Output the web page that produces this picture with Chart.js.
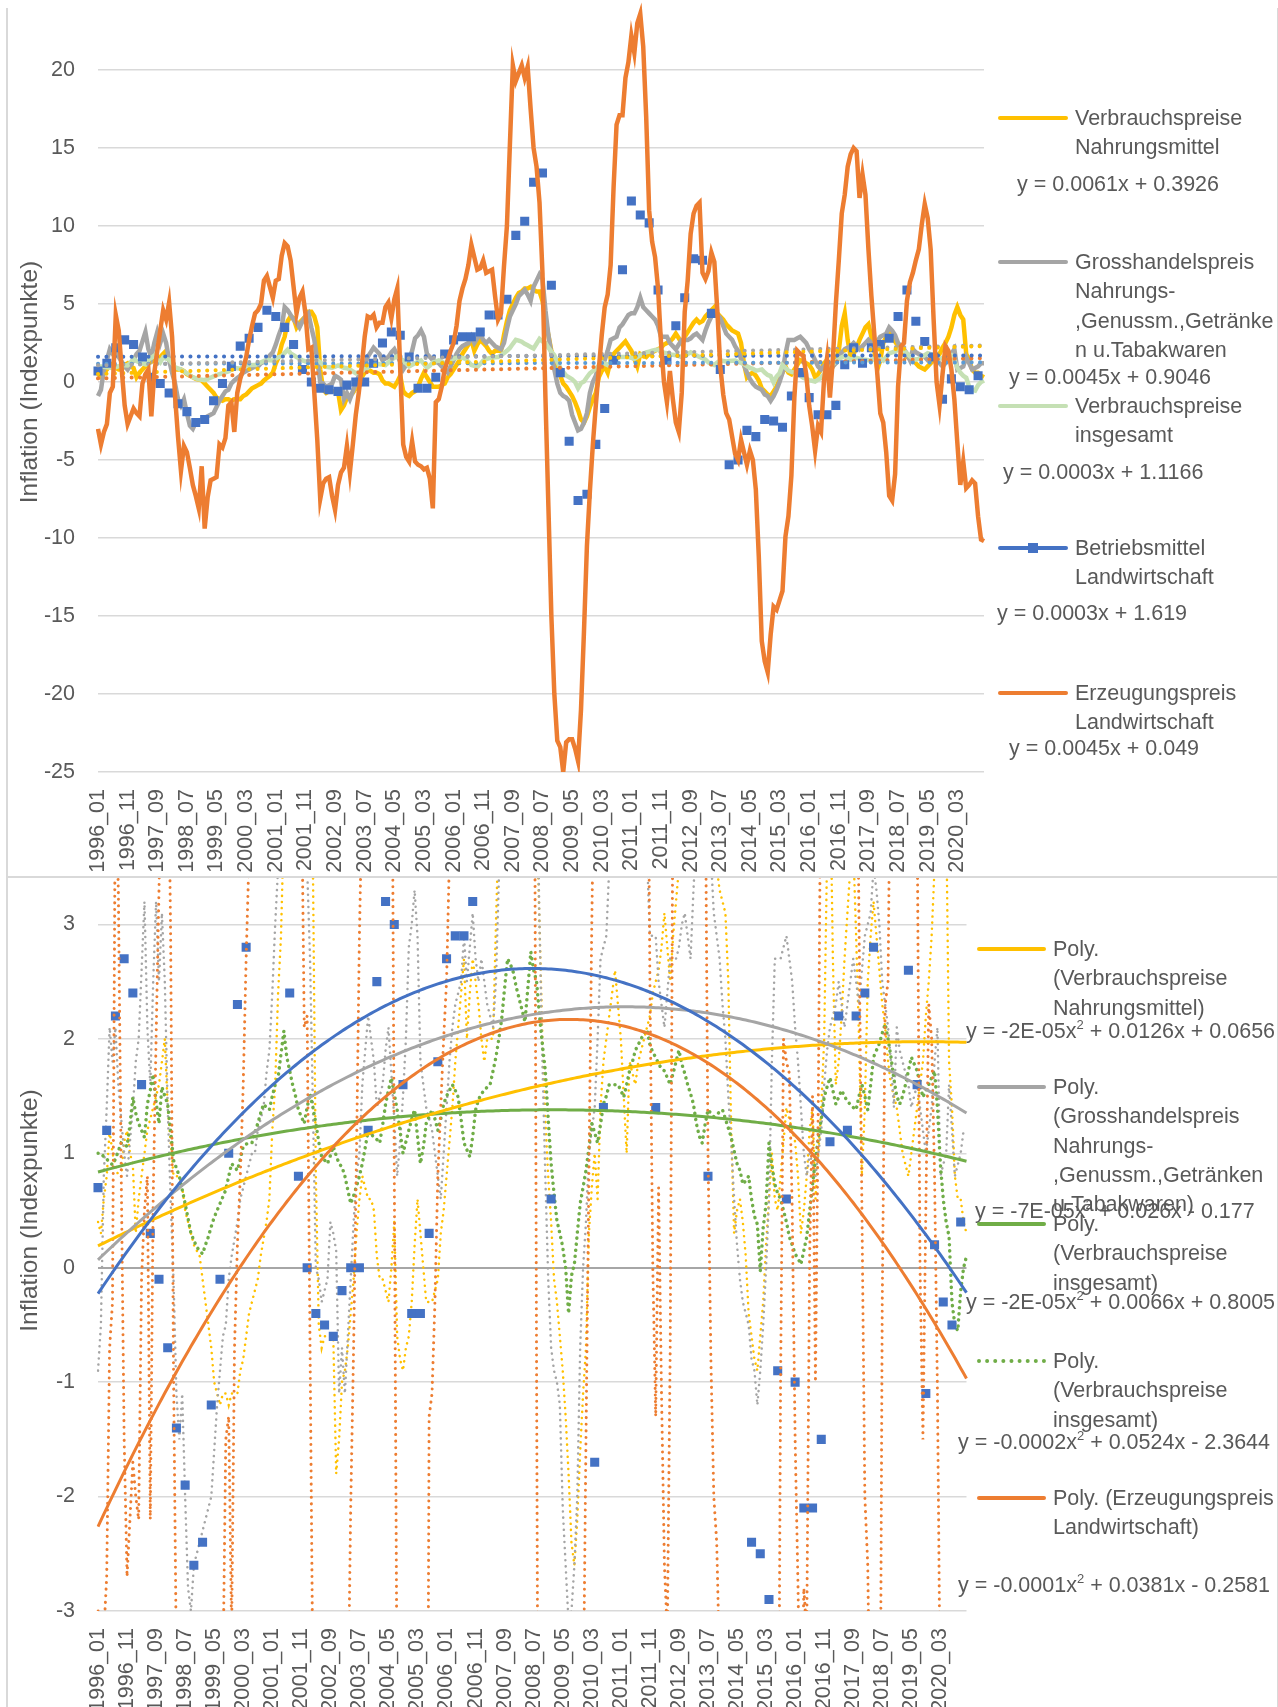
<!DOCTYPE html>
<html lang="de">
<head>
<meta charset="utf-8">
<title>Inflation (Indexpunkte)</title>
<script src="https://cdn.jsdelivr.net/npm/chart.js@4.4.0/dist/chart.umd.min.js"></script>
<style>
  html, body { margin: 0; padding: 0; background: #fff; }
  body { position: relative; width: 1278px; height: 1707px; overflow: hidden;
         font-family: "Liberation Sans", Arial, sans-serif; color: #595959; }
  .chartbox { position: absolute; left: 0; width: 1278px; }
  #bottomBox { top: 770px; height: 956px; z-index: 1; }
  #topBox { top: -48px; height: 924px; z-index: 2; background: #fff; }
  .rule { position: absolute; background: #d9d9d9; z-index: 5; }
  .lg { position: absolute; z-index: 6; font-size: 21.5px; line-height: 26px; white-space: nowrap; color: #595959; }
  .sw { position: absolute; z-index: 6; height: 4.5px; border-radius: 2.5px; }
  .swdot { position: absolute; z-index: 6; height: 0; border-top: 4px dotted #70ad47; }
  .mk { position: absolute; z-index: 7; width: 10px; height: 10px; background: #4472c4; }
  sup { font-size: 13px; line-height: 0; vertical-align: 9px; }
</style>
</head>
<body>
<div class="chartbox" id="topBox"><canvas id="topChart"></canvas></div>
<div class="chartbox" id="bottomBox"><canvas id="bottomChart"></canvas></div>
<div class="rule" style="left:6px;top:8px;width:1.5px;height:1699px"></div>
<div class="rule" style="left:1276.5px;top:8px;width:1.5px;height:1699px"></div>
<div class="rule" style="left:6px;top:876px;width:1272px;height:1.5px"></div>
<div id="legends"></div>
<script>
/* Monthly inflation series 1996_01 .. 2020_12, Betriebsmittel quarterly */
const FIRST_YEAR = 1996, LAST_YEAR = 2020;
const LABELS = [];
for (let y = FIRST_YEAR; y <= LAST_YEAR; y++) {
  for (let m = 1; m <= 12; m++) LABELS.push(y + '_' + String(m).padStart(2, '0'));
}

const NAMES = [
  'Verbrauchspreise Nahrungsmittel',
  'Grosshandelspreis Nahrungs-,Genussm.,Getränken u.Tabakwaren',
  'Verbrauchspreise insgesamt',
  'Betriebsmittel Landwirtschaft',
  'Erzeugungspreis Landwirtschaft',
];

const NAHRUNG = [
  0.4,0.3,0.6,0.8,1.2,1.0,0.9,0.8,0.8,1.1,1.2,1.0,
  0.9,0.3,0.6,0.8,1.0,1.2,1.3,1.4,1.5,1.6,1.8,2.0,
  1.4,1.1,0.8,0.8,0.8,0.7,0.5,0.4,0.3,0.2,0.15,0.1,
  -0.1,-0.3,-0.5,-0.7,-1.0,-1.1,-1.2,-1.1,-1.1,-1.2,-1.1,-1.1,
  -1.1,-0.9,-0.8,-0.6,-0.4,-0.3,-0.2,-0.1,0.1,0.25,0.4,0.6,
  1.2,1.6,2.4,2.9,3.9,4.2,4.1,3.5,3.8,4.0,4.2,4.5,
  4.5,4.2,3.5,0.8,-0.5,-0.7,-0.6,-0.6,-0.6,-0.6,-1.8,-1.5,
  -1.0,-0.9,-0.7,-0.4,-0.1,0.3,0.6,0.8,0.7,0.6,0.6,0.5,
  0.1,-0.1,-0.1,-0.2,-0.3,0.0,0.4,-0.6,-0.8,-0.9,-0.7,-0.6,
  -0.3,0.2,0.6,0.3,0.0,-0.3,-0.3,-0.3,-0.2,-0.1,0.3,0.5,
  0.8,1.1,1.4,1.8,2.1,2.4,2.7,2.0,2.4,2.7,2.5,2.3,
  2.0,1.8,2.0,2.0,2.0,3.0,3.9,4.6,5.0,5.4,5.7,5.8,
  6.0,6.0,6.1,5.9,5.8,5.8,5.2,4.0,3.0,2.0,1.3,0.8,
  0.4,-0.1,-0.3,-0.6,-0.9,-1.3,-1.8,-2.4,-2.6,-2.2,-1.6,-1.1,
  -0.7,0.3,0.7,1.0,0.6,1.4,1.8,2.0,2.2,2.4,2.6,2.3,
  2.0,1.5,1.0,1.8,1.7,1.6,1.8,1.9,2.0,2.1,2.2,2.4,
  2.5,2.6,2.8,3.1,2.8,2.5,2.9,3.2,3.5,3.8,4.0,3.8,
  3.9,4.2,4.4,4.6,4.8,4.4,4.2,4.0,3.7,3.5,3.3,3.2,
  3.1,2.5,1.2,0.3,0.5,0.6,0.4,0.1,-0.4,-0.6,-0.8,-0.9,
  -0.6,-0.3,0.2,0.6,1.0,0.6,0.5,0.8,1.1,1.4,1.3,1.2,
  1.1,0.8,0.3,0.5,0.8,1.2,1.4,0.6,1.0,1.4,2.0,3.6,
  4.4,2.7,1.6,1.8,2.2,2.7,3.1,3.5,3.7,2.9,2.0,0.8,
  1.4,2.5,2.9,3.2,2.9,2.6,2.3,2.1,1.8,1.6,1.5,1.4,
  1.2,1.0,0.9,0.8,1.0,1.2,1.4,1.6,1.8,2.2,2.5,2.9,
  3.5,4.3,4.8,4.3,4.0,1.8,1.4,0.8,0.6,0.6,0.4,0.3,
];

const GROSSHANDEL = [
  -0.9,-0.5,0.8,1.4,2.1,1.8,2.1,1.6,1.3,1.0,0.8,1.1,
  1.4,1.8,2.0,2.6,3.2,2.1,1.6,2.5,3.2,2.5,3.1,2.5,
  1.4,0.6,-0.1,-1.1,-1.5,-1.1,-2.0,-2.8,-3.0,-2.6,-2.5,-2.4,
  -2.3,-2.2,-2.1,-2.0,-1.6,-1.2,-0.9,-0.6,-0.5,-0.1,0.1,0.25,
  0.4,0.6,0.7,0.8,0.9,1.0,1.0,1.2,1.3,1.4,1.7,1.9,
  2.4,3.0,3.5,4.8,4.6,4.3,4.0,3.8,3.5,3.9,4.2,4.4,
  3.5,2.7,1.4,0.0,-0.1,-0.3,-0.2,-0.1,0.4,0.3,0.15,-1.1,
  -0.7,-1.1,-0.6,-0.1,0.4,0.8,1.0,1.6,1.9,2.2,2.0,1.8,
  1.4,1.5,1.6,1.9,2.1,1.7,1.3,0.8,1.1,1.5,2.0,2.8,
  3.0,3.3,2.9,1.8,1.6,1.4,1.3,1.2,1.0,0.8,0.6,1.0,
  1.4,1.8,2.1,2.3,2.4,2.5,2.9,2.5,2.8,3.1,2.7,2.5,
  2.7,2.5,2.3,2.2,2.1,2.5,3.4,4.2,4.6,5.0,5.5,5.7,
  5.9,5.6,5.2,6.1,6.5,6.9,6.6,4.6,3.0,1.8,0.8,-0.1,
  -0.7,-0.9,-1.0,-1.2,-2.1,-2.6,-3.1,-3.0,-2.6,-2.0,-0.7,0.0,
  0.4,1.0,1.2,1.4,2.0,2.7,2.8,2.9,3.5,3.7,4.0,4.3,
  4.4,4.4,4.8,5.4,4.8,4.6,4.4,4.2,4.0,3.6,2.9,2.9,
  2.9,2.5,2.3,2.1,2.4,2.7,2.7,2.7,2.8,3.0,3.1,2.9,
  2.7,3.3,3.8,4.2,4.4,4.3,4.1,3.6,3.1,2.9,2.7,2.3,
  2.0,1.5,1.1,0.6,0.2,-0.1,-0.3,-0.4,-0.5,-0.8,-0.9,-1.2,
  -0.9,-0.5,0.0,0.6,1.8,2.7,2.7,2.7,2.8,2.9,2.7,2.5,
  2.1,1.8,1.4,1.0,0.8,1.0,0.9,0.8,1.0,1.2,1.6,1.9,
  2.1,2.2,2.3,2.5,2.3,2.1,2.3,2.5,2.7,2.5,2.3,2.6,
  2.9,3.0,3.1,3.5,3.3,3.0,2.5,2.3,2.1,1.8,1.4,2.1,
  1.9,1.8,1.7,1.6,1.4,1.5,1.6,1.4,1.2,1.0,1.2,1.4,
  1.8,2.1,0.8,0.9,1.0,1.6,1.2,0.8,0.9,1.0,1.2,1.2,
];

const INSGESAMT = [
  1.0,1.0,0.97,0.95,0.92,0.9,0.95,1.02,1.09,1.08,1.06,1.25,
  1.49,1.35,1.26,1.2,1.14,1.43,1.55,1.69,1.45,1.26,1.58,1.5,
  1.43,1.2,0.94,0.87,0.8,0.68,0.56,0.43,0.3,0.24,0.18,0.15,
  0.12,0.2,0.27,0.36,0.44,0.5,0.56,0.62,0.68,0.8,0.91,0.88,
  0.85,0.95,1.06,1.08,1.09,1.09,1.18,1.26,1.35,1.43,1.4,1.38,
  1.5,1.6,1.66,1.87,2.07,1.84,1.72,1.6,1.5,1.38,1.32,1.26,
  1.4,1.52,1.4,1.26,1.1,0.97,0.94,0.91,0.98,1.06,0.98,0.91,
  0.88,0.8,0.68,0.56,0.63,0.71,0.8,0.91,1.05,1.2,1.17,1.14,
  1.12,1.09,1.25,1.43,1.55,1.66,1.52,1.38,1.2,1.0,1.1,1.2,
  1.3,1.38,1.15,0.91,1.05,1.26,1.32,1.38,1.3,1.2,1.3,1.43,
  1.5,1.55,1.6,1.55,1.49,1.3,1.09,1.03,0.97,1.15,1.38,1.47,
  1.52,1.55,1.58,1.6,1.72,1.84,2.0,2.18,2.45,2.7,2.65,2.58,
  2.45,2.35,2.25,2.15,2.45,2.76,2.6,2.5,2.2,1.95,1.72,1.3,
  0.91,0.65,0.41,0.3,0.18,0.0,-0.4,-0.07,0.03,0.3,0.56,0.7,
  0.85,1.05,1.26,1.18,1.09,1.25,1.43,1.5,1.6,1.6,1.6,1.6,
  1.55,1.49,1.6,1.72,1.8,1.9,1.95,2.0,2.05,2.08,1.95,1.88,
  1.84,1.78,1.74,1.72,1.66,1.6,1.7,1.8,1.9,1.78,1.7,1.6,
  1.52,1.43,1.26,1.15,1.09,1.25,1.38,1.35,1.32,1.34,1.36,1.38,
  1.3,1.22,1.14,1.02,0.91,0.85,0.73,0.76,0.8,0.6,0.45,0.38,
  -0.03,0.35,0.56,1.09,0.9,0.73,0.65,0.6,0.5,0.4,0.27,0.2,
  0.12,0.08,0.03,0.15,0.27,0.5,0.73,0.95,1.14,1.3,1.49,1.58,
  1.66,1.55,1.43,1.49,1.55,1.5,1.45,1.43,1.4,1.38,1.5,1.6,
  1.5,1.38,1.6,1.84,1.9,1.96,2.05,2.13,2.0,1.84,1.65,1.5,
  1.43,1.5,1.6,1.72,1.84,1.78,1.72,1.6,1.49,1.55,1.6,1.66,
  1.72,1.4,0.91,0.6,0.4,0.27,-0.3,-0.5,-0.55,-0.2,0.0,0.1,
];

// quarterly values: 1996_01, 1996_04, ... 2020_10
const BETRIEBSMITTEL_Q = [
  0.7,1.2,2.2,2.7,2.4,1.6,0.3,-0.1,-0.7,-1.4,
  -1.9,-2.6,-2.4,-1.2,-0.1,1.0,2.3,2.8,3.5,4.6,
  4.2,3.5,2.4,0.8,0.0,-0.4,-0.5,-0.6,-0.2,0.0,
  0.0,1.2,2.5,3.2,3.0,1.6,-0.4,-0.4,0.3,1.8,
  2.7,2.9,2.9,3.2,4.3,4.3,5.3,9.4,10.3,12.8,
  13.4,6.2,0.6,-3.8,-7.6,-7.2,-4.0,-1.7,1.4,7.2,
  11.6,10.7,10.2,5.9,1.4,3.6,5.4,7.9,7.8,4.4,
  0.8,-5.3,-5.0,-3.1,-3.5,-2.4,-2.5,-2.9,-0.9,0.6,
  -1.0,-2.1,-2.1,-1.5,1.1,2.2,1.2,2.2,2.4,2.8,
  4.2,5.9,3.9,2.6,1.6,-1.1,0.2,-0.3,-0.5,0.4,
];

const ERZEUGUNG = [
  -3.0,-4.0,-3.2,-2.7,-0.7,-0.3,4.3,3.3,0.8,-1.5,-2.7,-2.2,
  -1.7,-2.0,-2.2,-0.1,0.5,0.8,-2.2,0.6,2.0,3.3,4.6,4.0,
  5.1,2.9,-0.9,-3.5,-5.7,-4.1,-4.5,-5.5,-6.6,-7.3,-8.1,-5.4,
  -9.4,-7.4,-6.3,-6.2,-6.1,-4.0,-4.2,-3.6,-1.5,-1.3,-3.2,-0.7,
  0.2,0.8,1.6,2.7,3.6,4.4,4.6,5.0,6.5,6.8,6.1,5.4,
  6.5,6.6,8.1,8.9,8.7,7.8,6.1,4.4,5.4,5.8,4.4,2.1,
  2.2,-0.7,-3.7,-7.5,-6.5,-6.2,-6.1,-7.3,-8.2,-6.6,-5.8,-5.5,
  -4.1,-5.8,-4.0,-2.1,-0.7,1.0,2.9,4.2,4.1,4.3,3.5,3.8,
  3.8,4.8,5.1,4.1,5.3,6.0,0.8,-4.0,-4.8,-5.1,-3.8,-5.1,
  -5.3,-5.4,-5.6,-5.5,-6.2,-8.1,-1.3,-1.1,-0.3,0.8,1.4,2.0,
  2.5,3.6,5.2,6.0,6.6,7.5,8.8,8.0,7.2,7.3,7.8,7.0,
  7.1,7.2,5.5,4.0,4.4,7.4,10.0,15.2,20.3,19.3,19.8,20.3,
  19.5,20.2,17.5,15.0,13.8,11.5,7.0,-1.0,-8.0,-15.0,-20.0,-23.0,
  -23.4,-25.0,-23.1,-22.9,-22.9,-23.5,-24.3,-21.0,-16.0,-10.5,-7.0,-4.0,
  -1.5,0.8,3.0,4.8,5.6,7.5,12.5,16.5,17.1,17.1,19.5,20.5,
  22.2,21.1,23.0,23.6,21.5,17.0,11.0,9.0,8.0,6.0,2.5,0.0,
  -1.3,0.7,-1.1,-2.6,-3.2,-0.7,4.5,6.5,9.5,10.8,11.3,11.5,
  7.0,6.6,7.1,8.3,7.7,4.6,1.0,-0.8,-2.0,-2.4,-3.5,-4.6,
  -5.0,-3.7,-4.5,-5.3,-4.4,-5.0,-6.9,-11.2,-16.6,-17.9,-18.6,-16.2,
  -14.4,-14.6,-14.0,-13.4,-9.9,-8.6,-6.0,-1.0,2.0,1.8,1.7,0.5,
  -1.5,-2.8,-4.4,-2.8,-3.2,0.1,1.5,-1.0,1.5,5.0,7.8,10.8,
  12.0,13.8,14.6,15.0,14.8,11.8,13.3,12.0,8.5,5.5,3.0,0.5,
  -2.0,-2.6,-4.5,-7.3,-7.6,-5.9,-0.3,2.3,2.5,5.2,6.4,7.0,
  7.8,8.5,10.1,11.4,10.5,8.5,4.0,0.0,-1.5,0.5,2.3,2.0,
  0.8,-1.1,-3.9,-6.6,-5.1,-6.8,-6.6,-6.3,-6.5,-8.6,-10.1,-10.2,
];

const BETRIEBSMITTEL = LABELS.map((_, i) => (i % 3 === 0 ? BETRIEBSMITTEL_Q[i / 3] : null));

const LIN_EQ = ['y = 0.0061x + 0.3926', 'y = 0.0045x + 0.9046', 'y = 0.0003x + 1.1166', 'y = 0.0003x + 1.619', 'y = 0.0045x + 0.049'];
const POLY_EQ = ['y = -2E-05x2 + 0.0126x + 0.0656', 'y = -7E-05x2 + 0.026x - 0.177', 'y = -2E-05x2 + 0.0066x + 0.8005',
                 'y = -0.0002x2 + 0.0524x - 2.3644', 'y = -0.0001x2 + 0.0381x - 0.2581'];

const C = { yellow: '#ffc000', grey: '#a5a5a5', green: '#70ad47', pale: '#c5e0b4', blue: '#4472c4', sky: '#5b9bd5', orange: '#ed7d31', text: '#595959', grid: '#d9d9d9' };
const FONT = '"Liberation Sans", Arial, sans-serif';
Chart.defaults.font.family = FONT;
Chart.defaults.color = C.text;

// least-squares trend like Excel (x = 1..n, blanks skipped)
function trend(vals, deg) {
  const n = deg + 1, A = [];
  for (let r = 0; r < n; r++) A.push(new Array(n + 1).fill(0));
  vals.forEach((v, i) => {
    if (v == null) return;
    const t = (i + 1 - 150) / 100;
    for (let r = 0; r < n; r++) {
      for (let c = 0; c < n; c++) A[r][c] += Math.pow(t, r + c);
      A[r][n] += v * Math.pow(t, r);
    }
  });
  for (let i = 0; i < n; i++) {
    for (let k = i + 1; k < n; k++) {
      const f = A[k][i] / A[i][i];
      for (let c = i; c <= n; c++) A[k][c] -= f * A[i][c];
    }
  }
  const co = new Array(n).fill(0);
  for (let i = n - 1; i >= 0; i--) {
    let s = A[i][n];
    for (let c = i + 1; c < n; c++) s -= A[i][c] * co[c];
    co[i] = s / A[i][i];
  }
  return vals.map((_, i) => { const t = (i + 1 - 150) / 100; return co.reduce((s, c, k) => s + c * Math.pow(t, k), 0); });
}

const SERIES = [NAHRUNG, GROSSHANDEL, INSGESAMT, BETRIEBSMITTEL, ERZEUGUNG];

function xAxis(height) {
  return {
    type: 'category', offset: false,
    grid: { display: false, drawTicks: false }, border: { display: false },
    ticks: { autoSkip: false, minRotation: 90, maxRotation: 90, padding: 17, color: C.text, font: { size: 21.5 },
             callback: (v, i) => (i % 10 === 0 ? LABELS[i] : null) },
    afterFit: (s) => { s.height = height; },
  };
}
function yTitle() {
  return { display: true, text: 'Inflation (Indexpunkte)', color: C.text, font: { size: 24.5 }, padding: { top: 16, bottom: 0 } };
}
const line = (label, data, color, width, order, extra) => Object.assign({ label, data, borderColor: color, backgroundColor: color, borderWidth: width, pointRadius: 0, order, tension: 0 }, extra || {});
const dotted = (gap) => ({ borderDash: [0.1, gap], borderCapStyle: 'round' });
const squares = (label, data, order) => ({ label, data, showLine: false, pointStyle: 'rect', pointRadius: 6.4, pointBorderWidth: 0, pointBackgroundColor: C.blue, borderColor: C.blue, backgroundColor: C.blue, order });

/* ---- upper chart: raw series + linear trends ---- */
const linColors = [C.yellow, C.grey, C.sky, C.blue, C.orange];
new Chart(document.getElementById('topChart'), {
  type: 'line',
  data: {
    labels: LABELS,
    datasets: [
      line(NAMES[4], ERZEUGUNG, C.orange, 4.5, 0),
      ...SERIES.map((s, k) => line('Linear (' + NAMES[k] + ')', trend(s, 1), linColors[k], 4, 1, dotted(8.3))),
      squares(NAMES[3], BETRIEBSMITTEL, 2),
      line(NAMES[2], INSGESAMT, C.pale, 4.5, 3),
      line(NAMES[1], GROSSHANDEL, C.grey, 4.5, 4),
      line(NAMES[0], NAHRUNG, C.yellow, 4.5, 5),
    ],
  },
  options: {
    responsive: true, maintainAspectRatio: false, animation: false, devicePixelRatio: 1,
    layout: { padding: { top: 40, right: 294, left: 0, bottom: 0 } },
    plugins: { legend: { display: false }, tooltip: { enabled: false } },
    events: [],
    scales: {
      x: xAxis(104),
      y: {
        min: -25, max: 25,
        ticks: { stepSize: 5, padding: 23, color: C.text, font: { size: 21.5 }, callback: (v) => (v > 20 ? '' : v) },
        grid: { color: C.grid, lineWidth: 1.5, drawTicks: false }, border: { display: false },
        title: yTitle(),
        afterFit: (s) => { s.width = 98; },
      },
    },
  },
});

/* ---- lower chart: zoomed, dotted raw series + polynomial trends ---- */
new Chart(document.getElementById('bottomChart'), {
  type: 'line',
  data: {
    labels: LABELS,
    datasets: [
      line('Poly. (' + NAMES[3] + ')', trend(BETRIEBSMITTEL, 2), C.blue, 3, 0),
      line('Poly. (' + NAMES[4] + ')', trend(ERZEUGUNG, 2), C.orange, 3, 0),
      line('Poly. (' + NAMES[1] + ')', trend(GROSSHANDEL, 2), C.grey, 3, 0),
      line('Poly. (' + NAMES[0] + ')', trend(NAHRUNG, 2), C.yellow, 3, 0),
      line('Poly. (' + NAMES[2] + ')', trend(INSGESAMT, 2), C.green, 3, 0),
      line(NAMES[4], ERZEUGUNG, C.orange, 3, 1, dotted(6.5)),
      squares(NAMES[3], BETRIEBSMITTEL, 2),
      line(NAMES[2], INSGESAMT, C.green, 3.5, 3, dotted(6)),
      line(NAMES[1], GROSSHANDEL, C.grey, 2.5, 4, dotted(6)),
      line(NAMES[0], NAHRUNG, C.yellow, 2.5, 5, dotted(6)),
    ],
  },
  options: {
    responsive: true, maintainAspectRatio: false, animation: false, devicePixelRatio: 1,
    layout: { padding: { top: 40, right: 311.5, left: 0, bottom: 0 } },
    plugins: { legend: { display: false }, tooltip: { enabled: false } },
    events: [],
    scales: {
      x: xAxis(115),
      y: {
        min: -3, max: 4,
        ticks: { stepSize: 1, padding: 23, color: C.text, font: { size: 21.5 } },
        grid: { color: (c) => (c.tick && c.tick.value === 0 ? '#a6a6a6' : C.grid), lineWidth: (c) => (c.tick && c.tick.value === 0 ? 2 : 1.5), drawTicks: false },
        border: { display: false },
        title: yTitle(),
        afterFit: (s) => { s.width = 98; },
      },
    },
  },
});

/* ---- legends (HTML text) ---- */
const host = document.getElementById('legends');
function txt(s, x, cy) {
  const d = document.createElement('div');
  d.className = 'lg';
  d.style.left = x + 'px';
  d.style.top = (cy - 13) + 'px';
  d.innerHTML = s.replace(/x2/g, 'x<sup>2</sup>');
  host.appendChild(d);
}
function swatch(x, cy, w, color, kind) {
  const d = document.createElement('div');
  if (kind === 'dot') { d.className = 'swdot'; d.style.top = (cy - 2) + 'px'; }
  else { d.className = 'sw'; d.style.background = color; d.style.top = (cy - 2.25) + 'px'; }
  d.style.left = x + 'px'; d.style.width = w + 'px';
  host.appendChild(d);
  if (kind === 'marker') {
    const m = document.createElement('div');
    m.className = 'mk'; m.style.left = (x + w / 2 - 5) + 'px'; m.style.top = (cy - 5) + 'px';
    host.appendChild(m);
  }
}

const topEntries = [
  { color: C.yellow, y: 118, lines: ['Verbrauchspreise', 'Nahrungsmittel'], eq: [1017, 184] },
  { color: C.grey, y: 262, lines: ['Grosshandelspreis', 'Nahrungs-', ',Genussm.,Getränke', 'n u.Tabakwaren'], eq: [1009, 377] },
  { color: C.pale, y: 406, lines: ['Verbrauchspreise', 'insgesamt'], eq: [1003, 472] },
  { color: C.blue, y: 548, lines: ['Betriebsmittel', 'Landwirtschaft'], eq: [997, 613], kind: 'marker' },
  { color: C.orange, y: 693, lines: ['Erzeugungspreis', 'Landwirtschaft'], eq: [1009, 748] },
];
topEntries.forEach((e, k) => {
  swatch(998, e.y, 70, e.color, e.kind);
  e.lines.forEach((l, j) => txt(l, 1075, e.y + j * 29.3));
  txt(LIN_EQ[k], e.eq[0], e.eq[1]);
});

const bottomEntries = [
  { color: C.yellow, y: 949, lines: ['Poly.', '(Verbrauchspreise', 'Nahrungsmittel)'], eq: [966, 1031] },
  { color: C.grey, y: 1087, lines: ['Poly.', '(Grosshandelspreis', 'Nahrungs-', ',Genussm.,Getränken', 'u.Tabakwaren)'], eq: [975, 1211] },
  { color: C.green, y: 1224, lines: ['Poly.', '(Verbrauchspreise', 'insgesamt)'], eq: [966, 1302] },
  { color: C.green, y: 1361, lines: ['Poly.', '(Verbrauchspreise', 'insgesamt)'], eq: [958, 1442], kind: 'dot' },
  { color: C.orange, y: 1498, lines: ['Poly. (Erzeugungspreis', 'Landwirtschaft)'], eq: [958, 1585] },
];
bottomEntries.forEach((e, k) => {
  swatch(977, e.y, 69, e.color, e.kind);
  e.lines.forEach((l, j) => txt(l, 1053, e.y + j * 29.3));
  txt(POLY_EQ[k], e.eq[0], e.eq[1]);
});
</script>
</body>
</html>
